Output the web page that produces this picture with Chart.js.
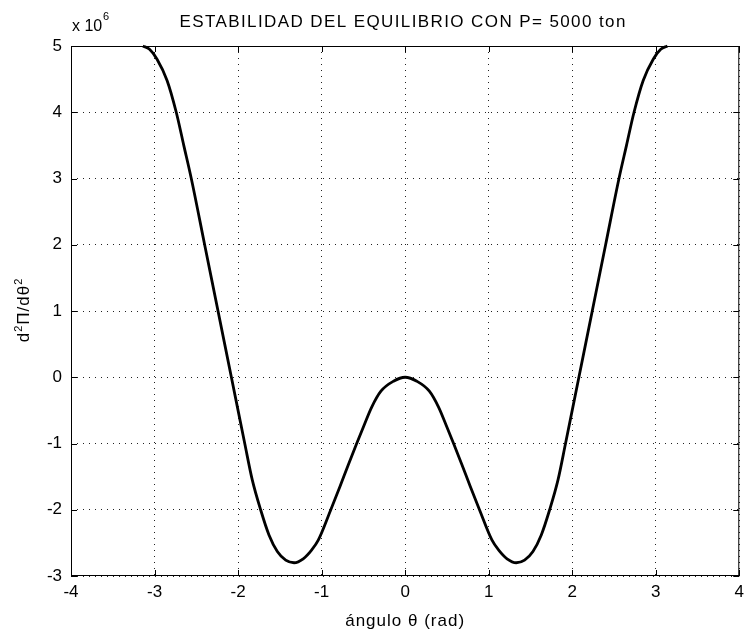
<!DOCTYPE html>
<html>
<head>
<meta charset="utf-8">
<script src="https://cdn.jsdelivr.net/npm/chart.js@4.4.0/dist/chart.umd.min.js"></script>
<style>
  html, body { margin: 0; padding: 0; background: #fff; }
</style>
</head>
<body>
<canvas id="chart" width="750" height="635"></canvas>
<script>
// angle theta (rad)
const theta = [-3.14, -3.06, -2.97, -2.85, -2.74, -2.65, -2.56, -2.4, -2.24, -2.08, -1.92, -1.83, -1.73, -1.63, -1.53, -1.43, -1.33, -1.22, -1.12, -1.04, -0.89, -0.78, -0.68, -0.58, -0.49, -0.4, -0.29, -0.14, 0,
  0.14, 0.29, 0.4, 0.49, 0.58, 0.68, 0.78, 0.89, 1.04, 1.12, 1.22, 1.33, 1.43, 1.53, 1.63, 1.73, 1.83, 1.92, 2.08, 2.24, 2.4, 2.56, 2.65, 2.74, 2.85, 2.97, 3.06, 3.14];
// d2Pi/dtheta2, in units of 10^6
const d2Pi = [5.0, 4.95, 4.8, 4.48, 4.0, 3.5, 3.0, 2.0, 1.0, 0, -1.0, -1.55, -2.0, -2.38, -2.63, -2.76, -2.8, -2.74, -2.61, -2.46, -2.0, -1.65, -1.32, -1.0, -0.72, -0.45, -0.21, -0.06, 0,
  -0.06, -0.21, -0.45, -0.72, -1.0, -1.32, -1.65, -2.0, -2.46, -2.61, -2.74, -2.8, -2.76, -2.63, -2.38, -2.0, -1.55, -1.0, 0, 1.0, 2.0, 3.0, 3.5, 4.0, 4.48, 4.8, 4.95, 5.0];

const xTicks = [-4, -3, -2, -1, 0, 1, 2, 3, 4];
const yTicks = [-3, -2, -1, 0, 1, 2, 3, 4, 5];

const titleText = "ESTABILIDAD DEL EQUILIBRIO CON P= 5000 ton";
const xTitle = "ángulo θ (rad)";

const FONT = "Liberation Sans, Arial, sans-serif";

const points = theta.map((t, i) => ({ x: t, y: d2Pi[i] }));

// box, inward ticks and all the text around the plot
const matlabFrame = {
  id: "matlabFrame",
  afterDraw(chart) {
    const ctx = chart.ctx;
    const a = chart.chartArea;
    const xs = chart.scales.x, ys = chart.scales.y;
    ctx.save();
    ctx.strokeStyle = "#000";
    ctx.lineWidth = 1;
    ctx.strokeRect(a.left + 0.5, a.top + 0.5, a.right - a.left - 1, a.bottom - a.top - 1);
    const tl = 6;
    ctx.beginPath();
    xTicks.forEach(v => {
      const px = Math.round(xs.getPixelForValue(v)) + 0.5;
      ctx.moveTo(px, a.bottom); ctx.lineTo(px, a.bottom - tl);
      ctx.moveTo(px, a.top); ctx.lineTo(px, a.top + tl);
    });
    yTicks.forEach(v => {
      const py = Math.round(ys.getPixelForValue(v)) + 0.5;
      ctx.moveTo(a.left, py); ctx.lineTo(a.left + tl, py);
      ctx.moveTo(a.right, py); ctx.lineTo(a.right - tl, py);
    });
    ctx.stroke();

    ctx.fillStyle = "#000";
    ctx.textBaseline = "alphabetic";
    // title
    ctx.font = "17px " + FONT;
    ctx.letterSpacing = "1.4px";
    ctx.textAlign = "center";
    ctx.fillText(titleText, (a.left + a.right) / 2 - 2, 27);
    // x axis title
    ctx.letterSpacing = "1px";
    ctx.fillText(xTitle, (a.left + a.right) / 2, 626);
    // exponent
    ctx.letterSpacing = "0px";
    ctx.textAlign = "left";
    ctx.font = "16px " + FONT;
    ctx.fillText("x 10", a.left + 1, 31);
    ctx.font = "11px " + FONT;
    ctx.fillText("6", a.left + 32, 20);
    // y axis title, rotated
    ctx.translate(29, (a.top + a.bottom) / 2 - 1);
    ctx.rotate(-Math.PI / 2);
    ctx.letterSpacing = "1px";
    const parts = [["d", 0], ["2", -7], ["Π/dθ", 0], ["2", -7]];
    let total = 0;
    parts.forEach(p => {
      ctx.font = (p[1] ? "11px " : "17px ") + FONT;
      total += ctx.measureText(p[0]).width;
    });
    let x = -total / 2;
    parts.forEach(p => {
      ctx.font = (p[1] ? "11px " : "17px ") + FONT;
      ctx.fillText(p[0], x, p[1]);
      x += ctx.measureText(p[0]).width;
    });
    ctx.restore();
  }
};

new Chart(document.getElementById("chart"), {
  type: "scatter",
  data: {
    datasets: [{
      data: points,
      showLine: true,
      borderColor: "#000",
      borderWidth: 2.8,
      pointRadius: 0,
      cubicInterpolationMode: "monotone",
      clip: false
    }]
  },
  options: {
    responsive: false,
    animation: false,
    devicePixelRatio: 1,
    layout: { padding: { top: 46, right: 7, left: 0, bottom: 0 } },
    plugins: { legend: { display: false }, tooltip: { enabled: false } },
    scales: {
      x: {
        type: "linear",
        min: -4, max: 4,
        afterBuildTicks: s => { s.ticks = xTicks.map(v => ({ value: v })); },
        afterFit: s => { s.height = 59; },
        grid: { color: "#222", lineWidth: 1, drawTicks: false },
        border: { display: false, dash: [1, 5] },
        ticks: { color: "#000", font: { family: FONT, size: 17 }, padding: 6, maxRotation: 0 }
      },
      y: {
        type: "linear",
        min: -3, max: 5,
        afterBuildTicks: s => { s.ticks = yTicks.map(v => ({ value: v })); },
        afterFit: s => { s.width = 71; },
        grid: { color: "#222", lineWidth: 1, drawTicks: false },
        border: { display: false, dash: [1, 5] },
        ticks: { color: "#000", font: { family: FONT, size: 17 }, padding: 9 }
      }
    }
  },
  plugins: [matlabFrame]
});
</script>
</body>
</html>
